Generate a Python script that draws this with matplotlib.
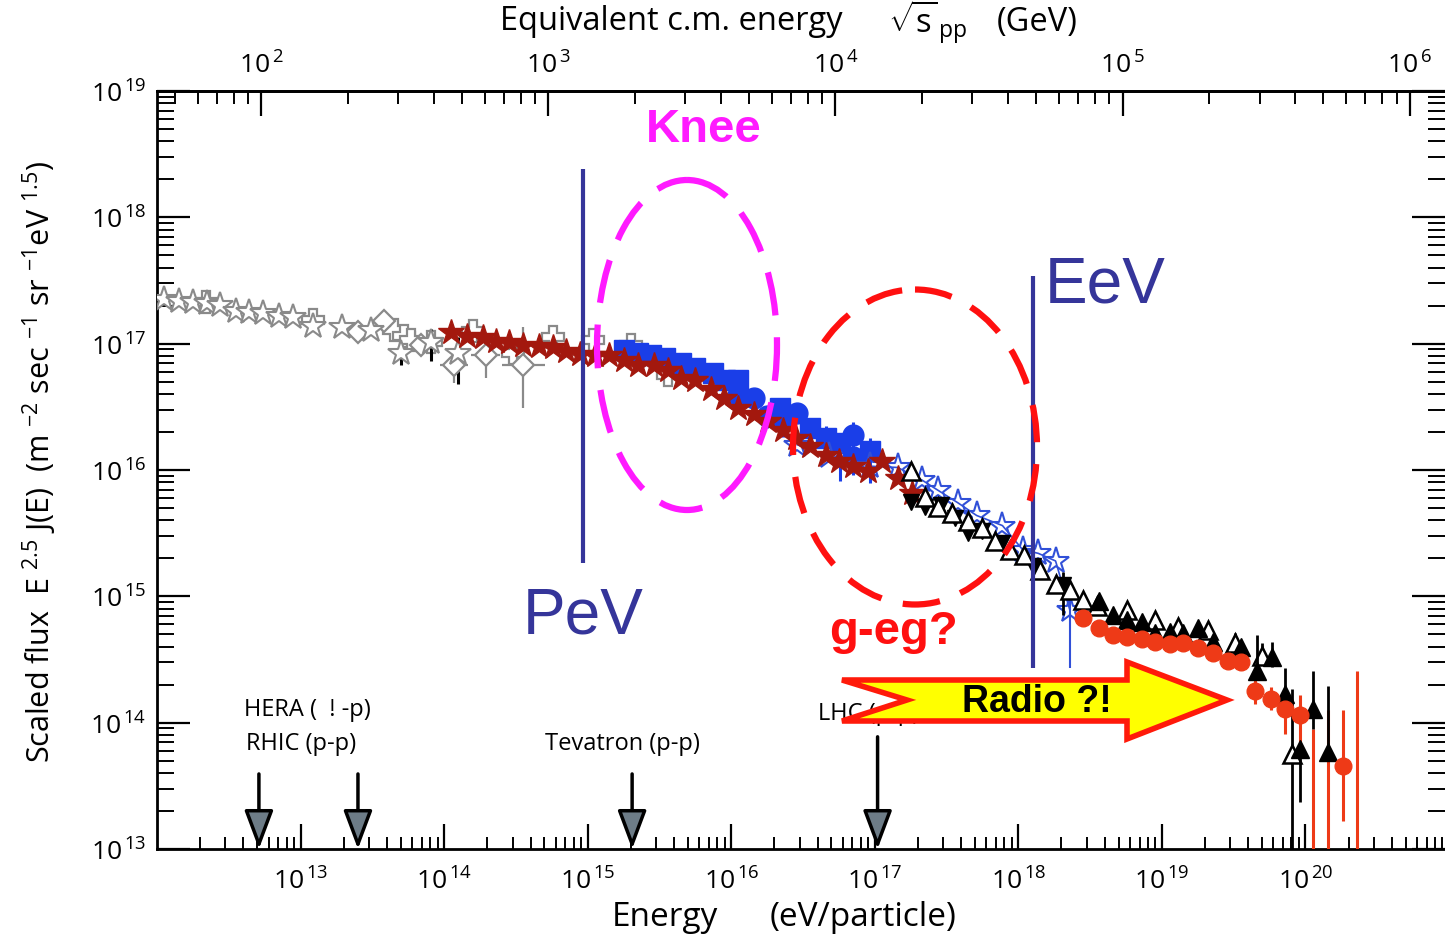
import numpy as np
import matplotlib
matplotlib.use("Agg")
import matplotlib.pyplot as plt
from matplotlib.ticker import LogLocator, FixedLocator, FixedFormatter, NullFormatter
from matplotlib.patches import Ellipse, Polygon
import matplotlib.transforms as mtransforms

plt.rcParams['font.family'] = ['Open Sans', 'DejaVu Sans']
plt.rcParams['mathtext.fontset'] = 'custom'
plt.rcParams['mathtext.rm'] = 'Open Sans'
plt.rcParams['mathtext.it'] = 'Open Sans:italic'
plt.rcParams['mathtext.bf'] = 'Open Sans:bold'

# ---------------- data (log10 energy [eV], log10 scaled flux) ----------------
grey_star_logE = [12.05, 12.15, 12.25, 12.35, 12.44, 12.55, 12.64, 12.74, 12.85, 12.95,
                  13.09, 13.29, 13.49, 13.70, 13.91, 14.10]
grey_star_logF = [17.35, 17.34, 17.33, 17.32, 17.31, 17.26, 17.25, 17.24, 17.22, 17.21,
                  17.14, 17.13, 17.11, 16.93, 17.01, 16.93]
grey_star_err_hi = [0, 0, 0, 0, 0, 0, 0, 0, 0, 0, 0, 0, 0.02, 0.06, 0.11, 0.12]
grey_star_err_lo = [0, 0, 0, 0, 0, 0, 0, 0, 0, 0, 0, 0, 0.02, 0.10, 0.15, 0.25]

grey_cross_logE = [12.34, 13.09, 13.65, 13.72, 13.77, 13.91, 14.20, 14.48, 14.76, 15.04, 15.30, 15.56]
grey_cross_logF = [17.33, 17.19, 17.11, 17.06, 17.03, 17.01, 17.10, 16.93, 17.05, 17.03, 16.99, 16.75]

grey_diam_logE = [13.40, 13.58, 13.84, 14.07, 14.29, 14.55]
grey_diam_logF = [17.09, 17.18, 16.99, 16.83, 16.91, 16.83]
grey_diam_xerr = [0, 0, 0, 0.10, 0.10, 0.15]
grey_diam_err_hi = [0, 0, 0, 0.08, 0.10, 0.30]
grey_diam_err_lo = [0, 0, 0, 0.14, 0.18, 0.34]

red_star_logE = [14.05, 14.16, 14.27, 14.36, 14.45, 14.55, 14.66, 14.76, 14.85, 14.95,
                 15.05, 15.15, 15.25, 15.35, 15.46, 15.56, 15.65, 15.75, 15.86, 15.95,
                 16.05, 16.16, 16.26, 16.36, 16.45, 16.55, 16.66, 16.75, 16.85, 16.95,
                 17.05, 17.16, 17.26]
red_star_logF = [17.09, 17.06, 17.05, 17.02, 17.01, 16.99, 16.98, 16.97, 16.94, 16.92,
                 16.91, 16.91, 16.87, 16.83, 16.83, 16.79, 16.73, 16.71, 16.64, 16.57,
                 16.49, 16.44, 16.39, 16.32, 16.25, 16.19, 16.12, 16.07, 16.03, 15.99,
                 16.07, 15.94, 15.82]

blue_sq_logE = [15.25, 15.35, 15.44, 15.54, 15.65, 15.75, 15.87, 15.96, 16.05,
                16.34, 16.55, 16.66, 16.76, 16.97]
blue_sq_logF = [16.95, 16.93, 16.91, 16.89, 16.85, 16.81, 16.77, 16.71, 16.71,
                16.49, 16.33, 16.25, 16.21, 16.15]
blue_sq_err_hi = [0, 0, 0, 0, 0, 0, 0, 0, 0, 0, 0, 0.10, 0.06, 0.10]
blue_sq_err_lo = [0, 0, 0, 0, 0, 0, 0, 0, 0, 0, 0, 0.08, 0.30, 0.25]

blue_circ_logE = [16.05, 16.16, 16.25, 16.36, 16.46, 16.85, 16.85]
blue_circ_logF = [16.59, 16.57, 16.43, 16.39, 16.45, 16.28, 16.10]
blue_circ_err_hi = [0, 0, 0, 0, 0, 0.10, 0]
blue_circ_err_lo = [0, 0, 0.10, 0.13, 0, 0.32, 0]

blue_ostar_logE = [16.46, 16.68, 16.97, 17.16, 17.33, 17.44, 17.58, 17.71, 17.89,
                   18.03, 18.14, 18.26, 18.36]
blue_ostar_logF = [16.20, 16.11, 16.03, 16.02, 15.92, 15.84, 15.74, 15.64, 15.56,
                   15.37, 15.34, 15.28, 14.89]
blue_ostar_err_hi = [0, 0, 0, 0, 0, 0, 0, 0, 0, 0, 0, 0, 0.25]
blue_ostar_err_lo = [0, 0, 0, 0, 0, 0, 0, 0, 0, 0, 0, 0, 0.46]

black_down_logE = [17.25, 17.35, 17.46, 17.56, 17.65, 17.75, 17.89, 18.10, 18.31]
black_down_logF = [15.75, 15.71, 15.72, 15.62, 15.50, 15.52, 15.42, 15.24, 15.09]
black_down_err_hi = [0, 0, 0, 0, 0, 0, 0, 0, 0.10]
black_down_err_lo = [0, 0, 0, 0, 0, 0, 0, 0, 0.24]

black_open_logE = [17.25, 17.35, 17.44, 17.54, 17.65, 17.75, 17.84, 17.94, 18.04, 18.15,
                   18.26, 18.36, 18.45, 18.55, 18.76, 18.95, 19.11, 19.32, 19.51, 19.70, 19.91]
black_open_logF = [15.99, 15.79, 15.71, 15.66, 15.60, 15.54, 15.44, 15.37, 15.33, 15.21,
                   15.10, 15.05, 14.97, 14.92, 14.89, 14.81, 14.76, 14.73, 14.63, 14.53, 13.75]
black_open_err_hi = [0] * 18 + [0.08, 0.10, 0.52]
black_open_err_lo = [0] * 18 + [0.05, 0.05, 1.2]

black_up_logE = [18.56, 18.66, 18.76, 18.86, 18.95, 19.06, 19.15, 19.25, 19.36, 19.55,
                 19.66, 19.77, 19.86, 19.96, 20.05, 20.16]
black_up_logF = [14.96, 14.85, 14.81, 14.80, 14.71, 14.72, 14.71, 14.75, 14.64, 14.60,
                 14.41, 14.52, 14.23, 13.79, 14.11, 13.77]
black_up_err_hi = [0, 0, 0, 0, 0, 0, 0, 0, 0, 0, 0.28, 0.12, 0.20, 0.16, 0.30, 0.52]
black_up_err_lo = [0, 0, 0, 0, 0, 0, 0, 0, 0, 0, 0.05, 0.08, 0.12, 0.42, 0.16, 0.0]

red_circ_logE = [18.45, 18.56, 18.66, 18.76, 18.86, 18.95, 19.06, 19.15, 19.25, 19.36,
                 19.46, 19.55, 19.65, 19.76, 19.86, 19.96, 20.26]
red_circ_logF = [14.83, 14.75, 14.69, 14.68, 14.66, 14.64, 14.62, 14.63, 14.59, 14.55,
                 14.49, 14.48, 14.25, 14.19, 14.11, 14.06, 13.66]
red_circ_err_hi = [0] * 12 + [0.10, 0.09, 0.08, 0.16, 0.44]
red_circ_err_lo = [0] * 12 + [0.10, 0.09, 0.20, 0.34, 0.44]

red_bar_logE = [20.05, 20.16, 20.36]
red_bar_top = [13.95, 14.10, 14.41]
red_bar_bottom = [13.0, 13.0, 13.0]

# accelerators (lab-frame equivalent energy, eV)
acc_names = ["HERA", "RHIC", "Tevatron", "LHC"]
acc_logE = [12.71, 13.40, 15.31, 17.02]

# tick exponents
x_exponents = [13, 14, 15, 16, 17, 18, 19, 20]
y_exponents = [13, 14, 15, 16, 17, 18, 19]
top_exponents = [2, 3, 4, 5, 6]

# ---------------- figure ----------------
W, H = 1445, 937
fig = plt.figure(figsize=(W / 100, H / 100), dpi=100)
fig.patch.set_facecolor('white')
ax = fig.add_axes([157 / W, 1 - 850 / H, (W - 157) / W, 758 / H])
ax.set_xscale('log')
ax.set_yscale('log')
ax.set_xlim(1e12, 10 ** 20.973)
ax.set_ylim(1e13, 1e19)

# pixel-based transform for decorations
pix = mtransforms.Affine2D().scale(1 / W, -1 / H).translate(0, 1) + fig.transFigure


def P(a):
    return 10 ** np.asarray(a, dtype=float)


def yerr(logf, lo, hi):
    logf = np.asarray(logf, float)
    return [P(logf) - P(logf - np.asarray(lo)), P(logf + np.asarray(hi)) - P(logf)]


grey = '#8a8a8a'
dE = np.asarray(grey_diam_logE)
ax.errorbar(P(dE), P(grey_diam_logF),
            xerr=[P(dE) - P(dE - np.asarray(grey_diam_xerr)), P(dE + np.asarray(grey_diam_xerr)) - P(dE)],
            yerr=yerr(grey_diam_logF, grey_diam_err_lo, grey_diam_err_hi),
            fmt='D', ms=11, mfc='white', mec=grey, mew=1.6, ecolor=grey, elinewidth=1.6, capsize=0, zorder=3)
ax.plot(P(grey_cross_logE), P(grey_cross_logF), 'P', ms=16, mfc='white', mec=grey, mew=1.6, ls='none', zorder=3)
ax.errorbar(P(grey_star_logE), P(grey_star_logF),
            yerr=yerr(grey_star_logF, grey_star_err_lo, grey_star_err_hi),
            fmt='none', ecolor='black', elinewidth=2.2, capsize=0, zorder=3)
ax.plot(P(grey_star_logE), P(grey_star_logF), '*', ms=19, mfc='white', mec=grey, mew=1.5, ls='none', zorder=4)

blue = '#1a3ee8'
ax.errorbar(P(blue_sq_logE), P(blue_sq_logF), yerr=yerr(blue_sq_logF, blue_sq_err_lo, blue_sq_err_hi),
            fmt='s', ms=14, color=blue, ecolor=blue, elinewidth=2.2, capsize=0, zorder=4)
ax.errorbar(P(blue_circ_logE), P(blue_circ_logF), yerr=yerr(blue_circ_logF, blue_circ_err_lo, blue_circ_err_hi),
            fmt='o', ms=15, color=blue, ecolor=blue, elinewidth=2.2, capsize=0, zorder=4)

ax.errorbar(P(blue_ostar_logE), P(blue_ostar_logF),
            yerr=yerr(blue_ostar_logF, blue_ostar_err_lo, blue_ostar_err_hi),
            fmt='-*', ms=20, mfc='none', mec='#3150d8', mew=1.5, color='#3150d8', lw=1.2,
            ecolor='#3150d8', elinewidth=1.5, capsize=0, zorder=4)

ax.plot(P(red_star_logE), P(red_star_logF), '*', ms=19, color='#a3180e', ls='none', zorder=5)

ax.errorbar(P(black_down_logE), P(black_down_logF),
            yerr=yerr(black_down_logF, black_down_err_lo, black_down_err_hi),
            fmt='v', ms=12, color='black', elinewidth=2, capsize=0, zorder=5)
ax.errorbar(P(black_open_logE), P(black_open_logF),
            yerr=yerr(black_open_logF, black_open_err_lo, black_open_err_hi),
            fmt='^', ms=13, mfc='white', mec='black', mew=1.8, ecolor='black', elinewidth=2, capsize=0, zorder=5)
ax.errorbar(P(black_up_logE), P(black_up_logF),
            yerr=yerr(black_up_logF, black_up_err_lo, black_up_err_hi),
            fmt='^', ms=13, color='black', elinewidth=2, capsize=0, zorder=6)

redc = '#ee3a17'
ax.vlines(P(red_bar_logE), P(red_bar_bottom), P(red_bar_top), color=redc, lw=2.2, zorder=5)
ax.errorbar(P(red_circ_logE), P(red_circ_logF),
            yerr=yerr(red_circ_logF, red_circ_err_lo, red_circ_err_hi),
            fmt='o', ms=12, color=redc, ecolor=redc, elinewidth=2.2, capsize=0, zorder=6)

# ---------------- axes styling ----------------
for s in ['left', 'bottom', 'top']:
    ax.spines[s].set_linewidth(2.0)
ax.spines['right'].set_visible(False)


def lab(e):
    return r'$10^{\,%d}$' % e


ax.xaxis.set_major_locator(FixedLocator([10.0 ** e for e in x_exponents]))
ax.xaxis.set_major_formatter(FixedFormatter([lab(e) for e in x_exponents]))
ax.xaxis.set_minor_locator(LogLocator(base=10, subs=np.arange(2, 10), numticks=200))
ax.xaxis.set_minor_formatter(NullFormatter())
ax.yaxis.set_major_locator(FixedLocator([10.0 ** e for e in y_exponents]))
ax.yaxis.set_major_formatter(FixedFormatter([lab(e) for e in y_exponents]))
ax.yaxis.set_minor_locator(LogLocator(base=10, subs=np.arange(2, 10), numticks=200))
ax.yaxis.set_minor_formatter(NullFormatter())

ax.tick_params(axis='x', which='major', direction='in', length=18, width=1.6, labelsize=19, pad=13,
               top=False, bottom=True)
ax.tick_params(axis='x', which='minor', direction='in', length=9, width=1.4, top=False, bottom=True)
ax.tick_params(axis='y', which='major', direction='in', length=24, width=1.6, labelsize=19, pad=8,
               left=True, right=True)
ax.tick_params(axis='y', which='minor', direction='in', length=12, width=1.4, left=True, right=True)

mp = 0.938e9  # proton mass in eV


def to_sqrts(E):
    E = np.asarray(E, float)
    return np.sqrt(2 * mp * np.clip(E, 1e-30, None)) / 1e9


def from_sqrts(s):
    s = np.asarray(s, float) * 1e9
    return s ** 2 / (2 * mp)


sec = ax.secondary_xaxis('top', functions=(to_sqrts, from_sqrts))
sec.xaxis.set_major_locator(FixedLocator([10.0 ** e for e in top_exponents]))
sec.xaxis.set_major_formatter(FixedFormatter([lab(e) for e in top_exponents]))
sec.xaxis.set_minor_locator(LogLocator(base=10, subs=np.arange(2, 10), numticks=200))
sec.xaxis.set_minor_formatter(NullFormatter())
sec.tick_params(which='major', direction='in', length=18, width=1.6, labelsize=19, pad=9)
sec.tick_params(which='minor', direction='in', length=9, width=1.4)
sec.spines['top'].set_linewidth(2.0)

# axis titles
fig.text(500 / W, 1 - 22 / H, 'Equivalent c.m. energy', fontsize=23.5, ha='left', va='center')
fig.text(888 / W, 1 - 22 / H, r'$\sqrt{\mathrm{s}}_{\,\mathrm{pp}}$', fontsize=23.5, ha='left', va='center')
fig.text(997 / W, 1 - 22 / H, '(GeV)', fontsize=23.5, ha='left', va='center')
fig.text(665 / W, 1 - 918 / H, 'Energy', fontsize=24, ha='center', va='center')
fig.text(863 / W, 1 - 918 / H, '(eV/particle)', fontsize=24, ha='center', va='center')
fig.text(40 / W, 1 - 462 / H,
         r'Scaled flux  E $^{2.5}$ J(E)  (m $^{-2}$ sec $^{-1}$ sr $^{-1}$eV $^{1.5}$)',
         fontsize=22, rotation=90, ha='center', va='center')

# ---------------- annotations ----------------
pevc = '#35359a'
ax.vlines(10 ** 14.97, 10 ** 15.262, 10 ** 18.381, color=pevc, lw=3, zorder=7)
ax.vlines(10 ** 18.105, 10 ** 14.429, 10 ** 17.532, color=pevc, lw=3, zorder=7)
ax.text(10 ** 14.97, 10 ** 14.85, 'PeV', fontsize=46, color=pevc, ha='center', va='center',
        family='Liberation Sans', zorder=8)
ax.text(10 ** 18.606, 10 ** 17.468, 'EeV', fontsize=46, color=pevc, ha='center', va='center',
        family='Liberation Sans', zorder=8)
ax.text(10 ** 15.806, 10 ** 18.698, 'Knee', fontsize=34, color='#ff1aff', fontweight='bold',
        ha='center', va='center', family='Liberation Sans', zorder=8)
ax.text(10 ** 17.130, 10 ** 14.722, 'g-eg?', fontsize=34, color='#ff1010', fontweight='bold',
        ha='center', va='center', family='Liberation Sans', zorder=8)

fig.add_artist(Ellipse((687, 346), 180, 330, transform=pix, fill=False, ec='#ff1aff', lw=4.5,
                       ls=(0, (7, 3.5)), zorder=9))
fig.add_artist(Ellipse((915, 448), 244, 315, transform=pix, fill=False, ec='#ff1010', lw=4.5,
                       ls=(0, (6, 3.5)), zorder=9))

# accelerator labels and arrows
ax.text(10 ** 12.603, 10 ** 14.111, 'HERA (  ! -p)', fontsize=17, ha='left', va='center', zorder=6)
ax.text(10 ** 12.617, 10 ** 13.841, 'RHIC (p-p)', fontsize=17, ha='left', va='center', zorder=6)
ax.text(10 ** 14.706, 10 ** 13.841, 'Tevatron (p-p)', fontsize=17, ha='left', va='center', zorder=6)
ax.text(10 ** 16.607, 10 ** 14.079, 'LHC (p-p)', fontsize=17, ha='left', va='center', zorder=6)

blend = mtransforms.blended_transform_factory(ax.transData, ax.transAxes)
starts = [0.099, 0.099, 0.099, 0.148]
for le, st in zip(acc_logE, starts):
    ax.annotate('', xy=(10 ** le, 0.0), xycoords=blend, xytext=(10 ** le, st), textcoords=blend,
                arrowprops=dict(arrowstyle='-|>,head_length=1.2,head_width=0.45', mutation_scale=20,
                                fc='#6d7c87', ec='black', lw=2.5, shrinkA=0, shrinkB=0), zorder=7)

# big "Radio ?!" arrow
arrow_pts = [(842, 681), (1127, 681), (1127, 663), (1227, 701), (1127, 740), (1127, 722), (842, 722), (907, 701)]
fig.add_artist(Polygon(arrow_pts, closed=True, transform=pix, fc='#ffff00', ec='#ff1a0a', lw=4,
                       joinstyle='miter', zorder=10))
fig.text(1037 / W, 1 - 702 / H, 'Radio ?!', fontsize=27, fontweight='bold', ha='center', va='center',
         family='Liberation Sans', zorder=11)

fig.savefig('out.png', dpi=100, facecolor='white')
